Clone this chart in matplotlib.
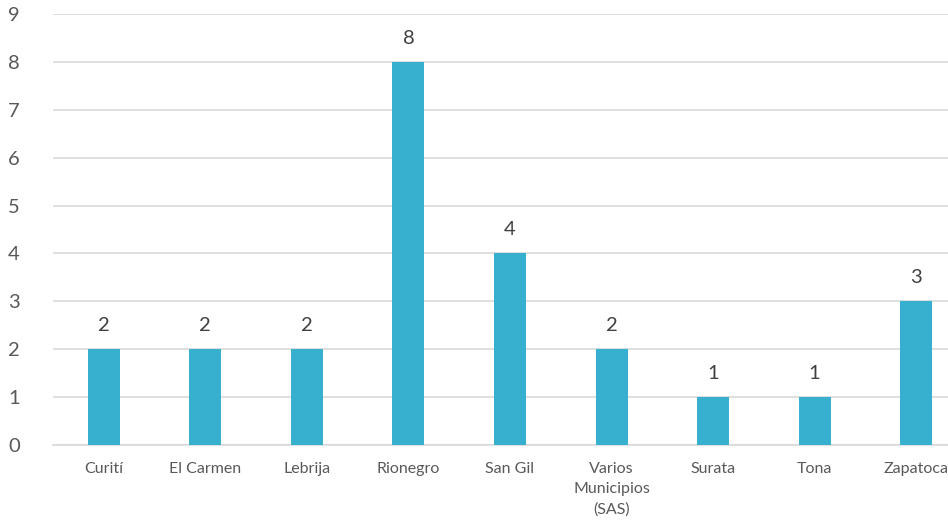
import matplotlib
matplotlib.use("Agg")
import matplotlib.pyplot as plt

categories = ["Curití", "El Carmen", "Lebrija", "Rionegro", "San Gil",
              "Varios\nMunicipios\n(SAS)", "Surata", "Tona", "Zapatoca"]
values = [2, 2, 2, 8, 4, 2, 1, 1, 3]
yticks = list(range(0, 10))

plt.rcParams['font.family'] = ['Lato', 'DejaVu Sans']

fig = plt.figure(figsize=(9.48, 5.27), dpi=100)
ax = fig.add_axes([53/948, 82/527, 914/948, 431/527])

x = list(range(len(categories)))
bars = ax.bar(x, values, width=0.315, color="#37AFCF", zorder=3)
for xi, v in zip(x, values):
    ax.annotate(str(v), (xi, v), xytext=(0, 11), textcoords="offset points",
                ha="center", va="bottom", fontsize=14.5, color="#404040")

ax.set_xlim(-0.5, len(categories) - 0.5)
ax.set_ylim(0, 9)
ax.set_yticks(yticks)
ax.set_xticks(x)
ax.set_xticklabels(categories, fontsize=11.5, color="#595959", linespacing=1.55)
ax.tick_params(axis="y", labelsize=14.5, labelcolor="#595959", length=0, pad=24)
ax.tick_params(axis="x", length=0, pad=12)
ax.grid(axis="y", color="#D9D9D9", linewidth=1.2, zorder=0)
for s in ["top", "right", "left"]:
    ax.spines[s].set_visible(False)
ax.spines["bottom"].set_color("#D9D9D9")
ax.spines["bottom"].set_linewidth(1.2)

fig.savefig("out.png", dpi=100)
